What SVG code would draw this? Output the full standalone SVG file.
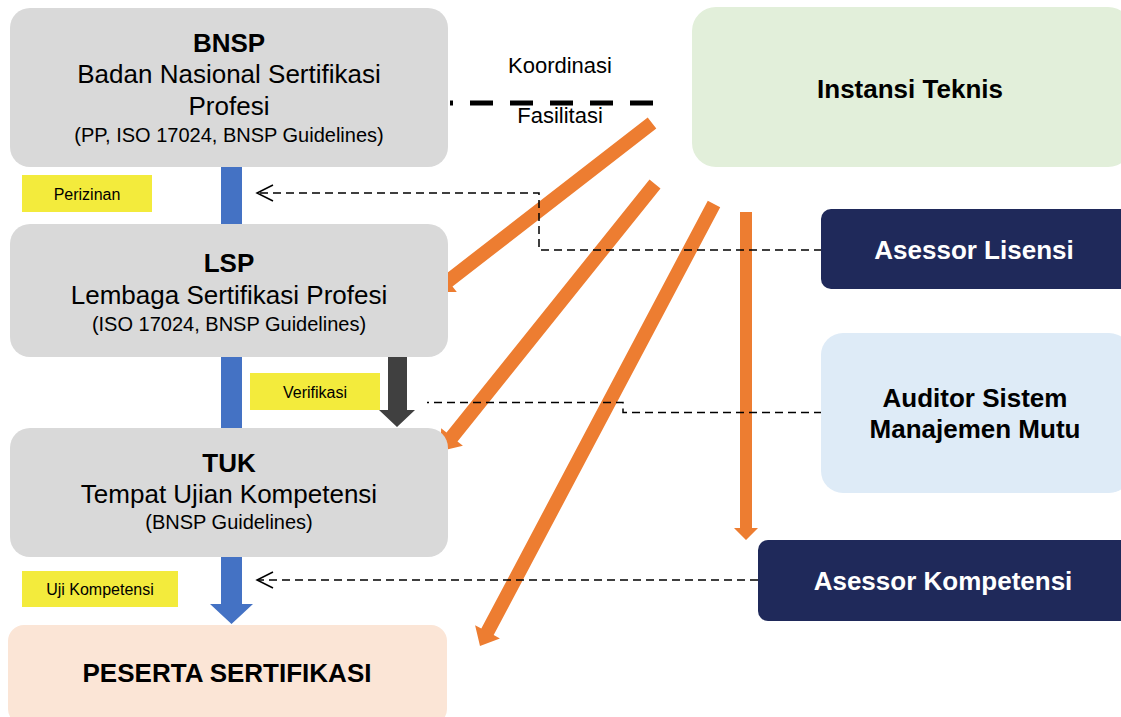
<svg xmlns="http://www.w3.org/2000/svg" width="1121" height="717" viewBox="0 0 1121 717">
<style>
text{font-family:"Liberation Sans",Arial,Helvetica,sans-serif;fill:#000;text-anchor:middle}
.b{font-weight:bold;font-size:26px}
.r{font-size:26px}
.s{font-size:20px}
.l{font-size:16px}
.k{font-size:22px}
.w{fill:#fff}
.grey{fill:#D9D9D9}
.yel{fill:#F3EB3C}
.org{fill:#ED7D31}
.blue{fill:#4472C4}
.navy{fill:#1F295A}
.dash{fill:none;stroke:#000;stroke-width:1.5;stroke-dasharray:8 5}
.chev{fill:none;stroke:#000;stroke-width:1.5}
</style>
<rect width="1121" height="717" fill="#fff"/>
<g id="connectors">
<polygon class="org" points="647.7,117.5 443.9,275.4 439.7,269.9 434,292 456.8,292 452.5,286.5 656.3,128.5"/>
<polygon class="org" points="649.5,179.6 446.5,432.6 441.1,428.2 440.7,451 462.9,445.8 457.5,441.4 660.5,188.4"/>
<polygon class="org" points="707.8,200.7 481.3,628.6 475.1,625.3 480,646 499.9,638.4 493.7,635.1 720.2,207.3"/>
<polygon class="org" points="740,212 752,212 752,528 758,528 746,540 734,528 740,528"/>
<rect class="blue" x="221" y="167" width="21" height="57"/>
<rect class="blue" x="221" y="357" width="21" height="71"/>
<polygon class="blue" points="221,557 242,557 242,604 253,604 231.5,624 210,604 221,604"/>
<polygon fill="#404040" points="388,357 407,357 407,410 415,410 397,427 379,410 388,410"/>
<line x1="653" y1="103" x2="450" y2="103" stroke="#000" stroke-width="5" stroke-dasharray="23 17"/>
<path class="dash" d="M822,250 H539 V193 H258"/>
<path class="chev" d="M273,185 L257,193 L273,201"/>
<path class="dash" d="M822,412.5 H623 V402.5 H427"/>
<path class="dash" d="M758,580 H258"/>
<path class="chev" d="M273,572 L257,580 L273,588"/>
<text class="k" x="560" y="73">Koordinasi</text>
<text class="k" x="560" y="123">Fasilitasi</text>
</g>
<g id="label-perizinan">
<rect class="yel" x="22" y="175" width="130" height="37"/>
<text class="l" x="87" y="200">Perizinan</text>
</g>
<g id="label-verifikasi">
<rect class="yel" x="250" y="373" width="130" height="37"/>
<text class="l" x="315" y="398">Verifikasi</text>
</g>
<g id="label-uji">
<rect class="yel" x="22" y="571" width="156" height="36"/>
<text class="l" x="100" y="595">Uji Kompetensi</text>
</g>
<g id="bnsp">
<rect class="grey" x="10" y="8" width="438" height="159" rx="20"/>
<text class="b" x="229" y="52">BNSP</text>
<text class="r" x="229" y="83">Badan Nasional Sertifikasi</text>
<text class="r" x="229" y="115">Profesi</text>
<text class="s" x="229" y="142">(PP, ISO 17024, BNSP Guidelines)</text>
</g>
<g id="lsp">
<rect class="grey" x="10" y="224" width="438" height="133" rx="20"/>
<text class="b" x="229" y="272">LSP</text>
<text class="r" x="229" y="304">Lembaga Sertifikasi Profesi</text>
<text class="s" x="229" y="331">(ISO 17024, BNSP Guidelines)</text>
</g>
<g id="tuk">
<rect class="grey" x="10" y="428" width="438" height="129" rx="20"/>
<text class="b" x="229" y="472">TUK</text>
<text class="r" x="229" y="503">Tempat Ujian Kompetensi</text>
<text class="s" x="229" y="529">(BNSP Guidelines)</text>
</g>
<g id="peserta">
<rect fill="#FBE5D6" x="8" y="625" width="439" height="100" rx="16"/>
<text class="b" x="227" y="682">PESERTA SERTIFIKASI</text>
</g>
<g id="instansi">
<rect fill="#E2EFDA" x="692" y="7" width="440" height="160" rx="24"/>
<text class="b" x="910" y="98">Instansi Teknis</text>
</g>
<g id="asessor-lisensi">
<rect class="navy" x="821" y="209" width="310" height="80" rx="10"/>
<text class="b w" x="974" y="259">Asessor Lisensi</text>
</g>
<g id="auditor">
<rect fill="#DEEBF7" x="821" y="333" width="310" height="160" rx="22"/>
<text class="b" x="975" y="407">Auditor Sistem</text>
<text class="b" x="975" y="438">Manajemen Mutu</text>
</g>
<g id="asessor-kompetensi">
<rect class="navy" x="758" y="540" width="373" height="81" rx="10"/>
<text class="b w" x="943" y="590">Asessor Kompetensi</text>
</g>
</svg>
